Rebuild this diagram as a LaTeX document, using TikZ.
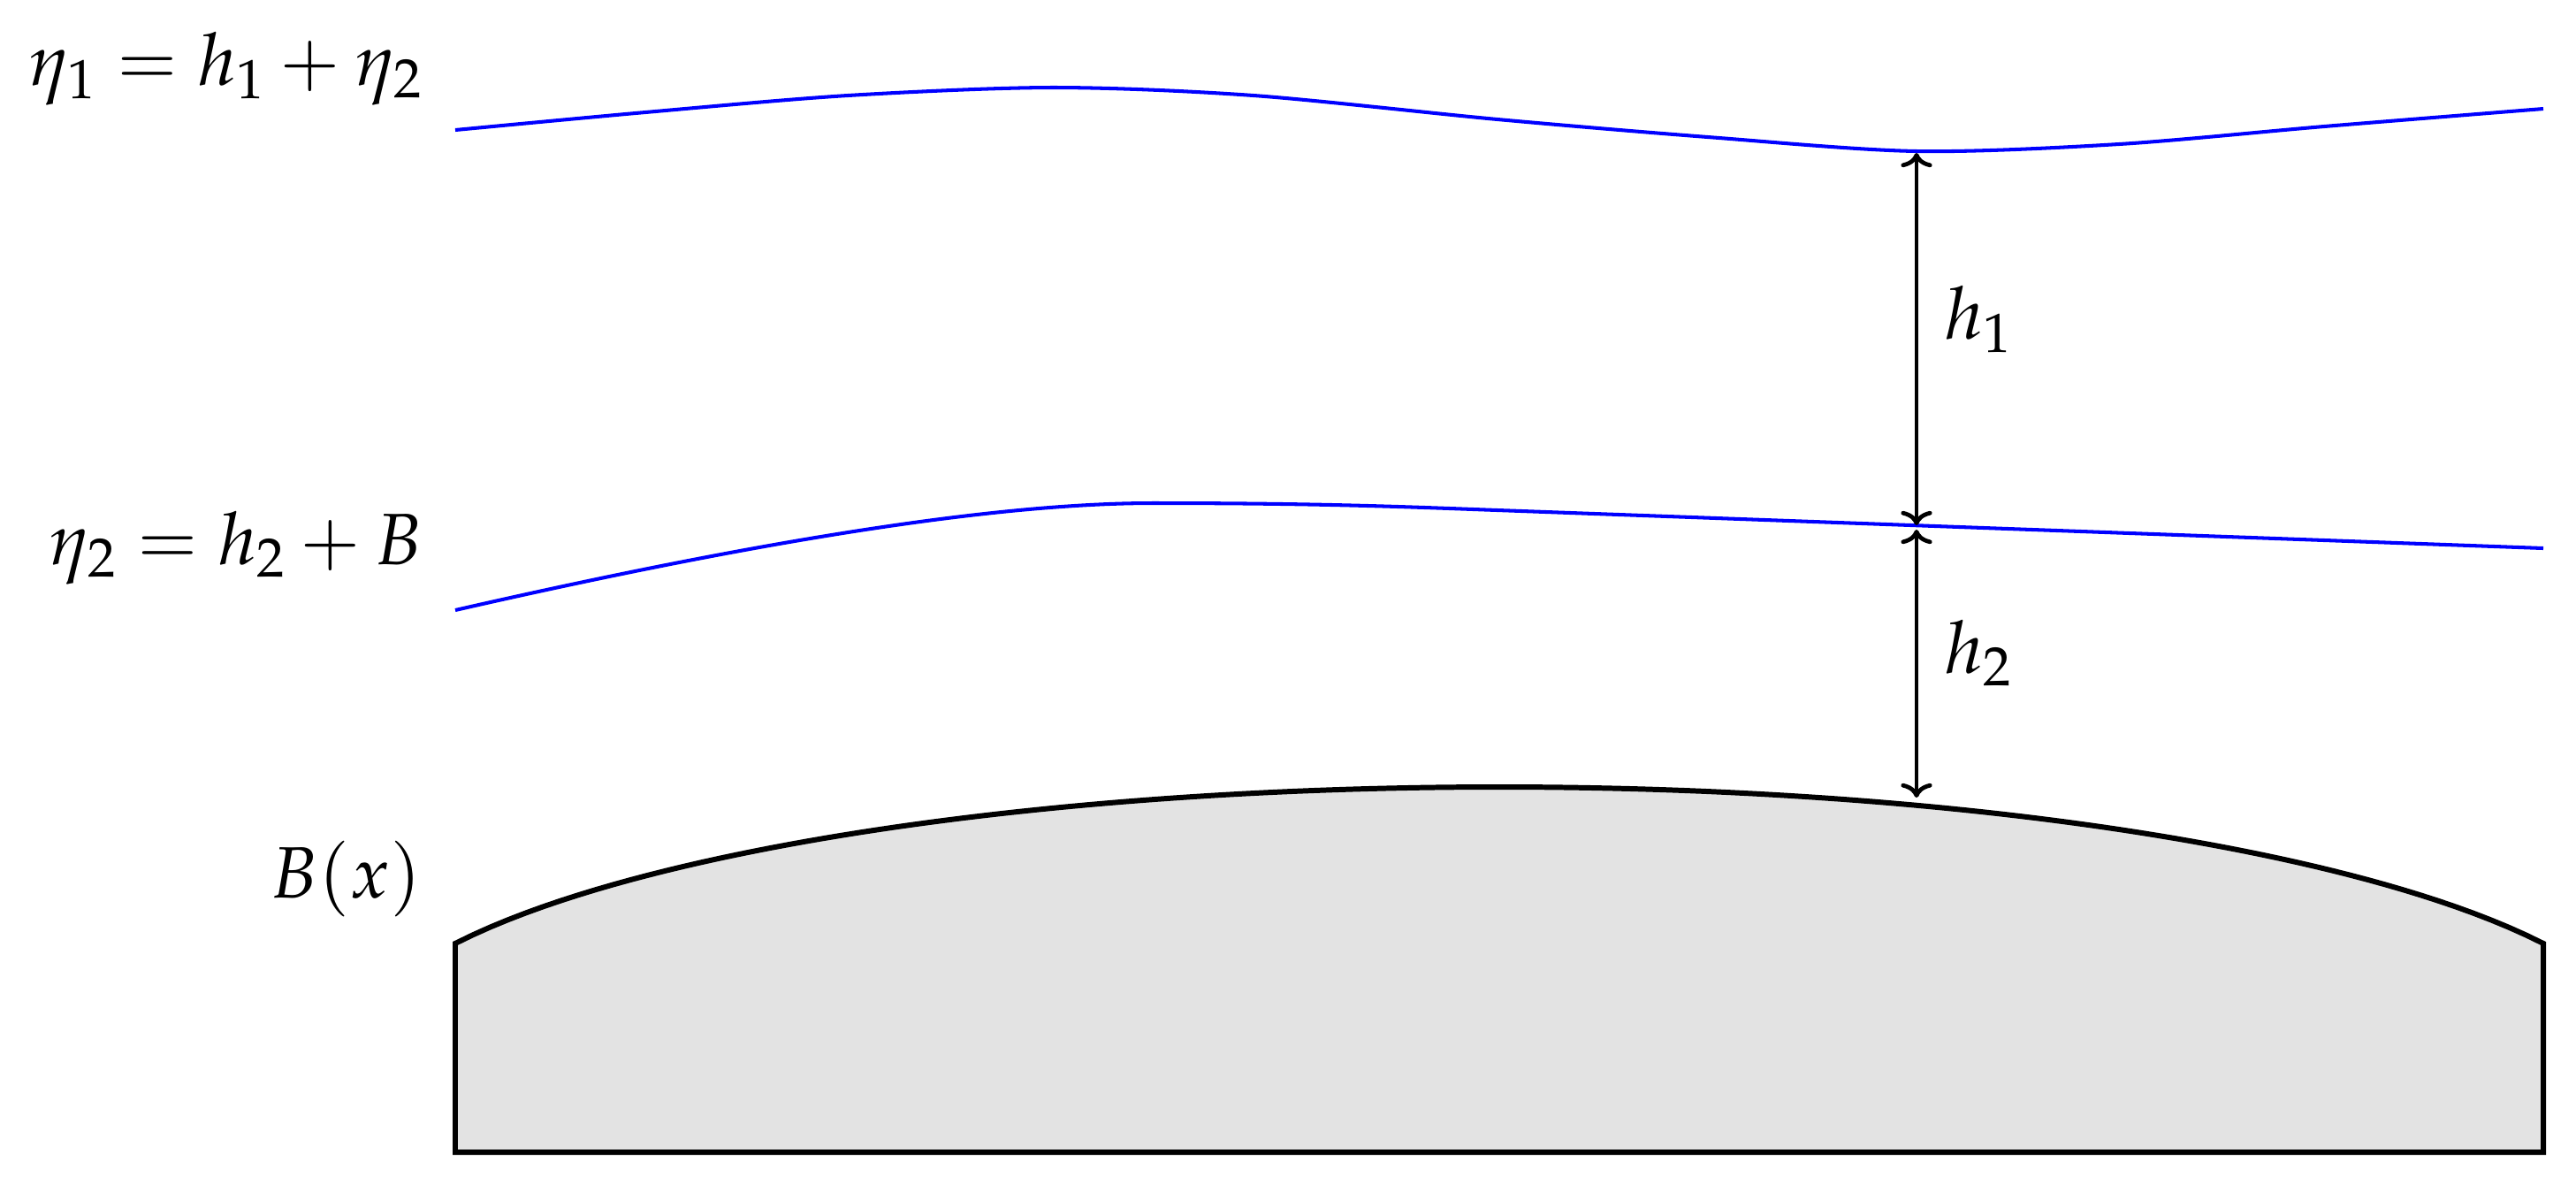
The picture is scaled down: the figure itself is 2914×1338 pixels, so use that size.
\documentclass[tikz,border=0pt]{standalone}
\usepackage{mathpazo}
\usetikzlibrary{arrows.meta}
\definecolor{bedgray}{RGB}{227,227,227}
\tikzset{
  surf/.style={blue, line width=1.15pt},
  bedline/.style={black, line width=1.7pt, fill=bedgray},
  dimarrow/.style={black, line width=1.35pt, {Computer Modern Rightarrow[length=4.6pt,width=10pt]}-{Computer Modern Rightarrow[length=4.6pt,width=10pt]}},
  lab/.style={inner sep=0pt, font=\fontsize{23.4}{28}\selectfont}
}
\begin{document}
\begin{tikzpicture}[x=0.01cm,y=-0.01cm]
\useasboundingbox (0,0) rectangle (2914,1338);
% bed
\draw[bedline] (515,1303) -- (515,1067)
  -- plot[domain=515:2877, samples=120] (\x, {1194-304*sqrt(1-((\x-1696)/1300)^2)})
  -- (2877,1303) -- cycle;
% surfaces
\draw[surf] plot[smooth] coordinates {(515,147) (730,127) (959,108) (1192,99) (1418,108) (1694,135) (1932,155) (2168,171) (2397,163) (2629,143) (2877,123)};
\draw[surf] (515,690) .. controls (800,625) and (1100,569) .. (1304,569)
  .. controls (1500,569) and (1600,573.6) .. (1694,577) -- (2877,620);
% arrows
\coordinate (t1) at (2168,173);
\coordinate (m1) at (2168,594);
\coordinate (m2) at (2168,599);
\coordinate (b2) at (2168,902);
\draw[dimarrow] (t1) -- (m1);
\draw[dimarrow] (m2) -- (b2);
% labels
\node[lab, anchor=base east] (eta1) at (479,96) {$\eta_1 = h_1 + \eta_2$};
\node[lab, anchor=base east] (eta2) at (479,638) {$\eta_2 = h_2 + B$};
\node[lab, anchor=base east] (bx) at (477,1015) {$B(x)$};
\node[lab, anchor=base west] (h1) at (2199,383) {$h_1$};
\node[lab, anchor=base west] (h2) at (2199,761) {$h_2$};
\end{tikzpicture}
\end{document}
